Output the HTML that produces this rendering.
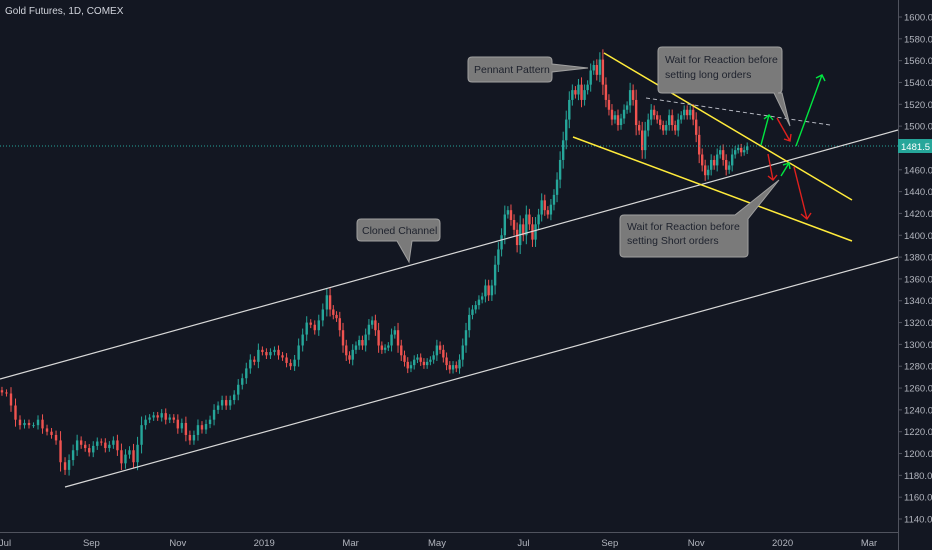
<!DOCTYPE html>
<html><head><meta charset="utf-8"><style>
body{margin:0;background:#131722;overflow:hidden}
svg{display:block;font-family:"Liberation Sans",sans-serif}
</style></head><body>
<svg id="c" width="932" height="550">
<rect width="932" height="550" fill="#131722"/>
<text x="5" y="14" fill="#d1d4dc" font-size="10">Gold Futures, 1D, COMEX</text>
<g id="candles"></g>
<g id="yaxis"></g>
<g id="xaxis"></g>
<line x1="0" y1="146" x2="898" y2="146" stroke="#26a69a" stroke-dasharray="1,2"/>
<line x1="0" y1="379" x2="898" y2="130" stroke="#d8d8d8" stroke-width="1.2"/>
<line x1="65" y1="487" x2="898" y2="257" stroke="#d8d8d8" stroke-width="1.2"/>
<line x1="604" y1="53" x2="852" y2="200" stroke="#ffeb3b" stroke-width="1.5"/>
<line x1="573" y1="137" x2="852" y2="241" stroke="#ffeb3b" stroke-width="1.5"/>
<line x1="646" y1="98" x2="830" y2="125" stroke="#b2b5be" stroke-dasharray="4,3"/>
<g stroke-width="1.4" fill="none">
<path d="M761 145 L769 115 M764 119 L769 115 L773 120" stroke="#00e640"/>
<path d="M777 118 L790 141 M784 139 L790 141 L791 134" stroke="#e0201e"/>
<path d="M796 146 L822 75 M816 78 L822 75 L825 81" stroke="#00e640"/>
<path d="M768 154 L773 180 M768 176 L773 180 L777 175" stroke="#e0201e"/>
<path d="M781 176 L789 163 M783 165 L789 163 L790 169" stroke="#00e640"/>
<path d="M794 167 L807 219 M801 214 L807 219 L811 213" stroke="#e0201e"/>
</g>
<g font-size="10.5" fill="#1e222d">
<g><path d="M472 57 H548 Q552 57 552 61 V64 L588 68 L552 72 V78 Q552 82 548 82 H472 Q468 82 468 78 V61 Q468 57 472 57Z" fill="#7a7a7a" stroke="#a0a0a0"/><text x="474" y="73" fill="#1e222d">Pennant Pattern</text></g>
<g><path d="M662 47 H778 Q782 47 782 51 V89 Q782 93 778 93 H782 L790 126 L774 93 H662 Q658 93 658 89 V51 Q658 47 662 47Z" fill="#7a7a7a" stroke="#a0a0a0"/><text x="665" y="63">Wait for Reaction before</text><text x="665" y="78">setting long orders</text></g>
<g><path d="M624 215 H735 L779 180 L748 219 V253 Q748 257 744 257 H624 Q620 257 620 253 V219 Q620 215 624 215Z" fill="#7a7a7a" stroke="#a0a0a0"/><text x="627" y="230">Wait for Reaction before</text><text x="627" y="244">setting Short orders</text></g>
<g><path d="M361 219 H436 Q440 219 440 223 V237 Q440 241 436 241 H412 L409 262 L397 241 H361 Q357 241 357 237 V223 Q357 219 361 219Z" fill="#7a7a7a" stroke="#a0a0a0"/><text x="362" y="234">Cloned Channel</text></g>
</g>
<rect x="898" y="139" width="34" height="14" fill="#26a69a"/>
<text x="901" y="150" fill="#ffffff" font-size="9.5">1481.5</text>
</svg>
<script>
const closes=[1256,1255,1244,1231,1226,1228,1226,1226,1231,1223,1220,1217,1212,1192,1185,1194,1203,1212,1208,1205,1201,1207,1211,1210,1205,1208,1212,1203,1191,1199,1203,1192,1208,1226,1231,1233,1235,1233,1237,1231,1233,1231,1223,1228,1217,1212,1217,1226,1222,1227,1231,1240,1244,1249,1244,1249,1254,1263,1269,1278,1286,1284,1295,1293,1290,1293,1295,1290,1288,1283,1280,1286,1299,1309,1320,1318,1313,1322,1332,1345,1332,1327,1324,1313,1299,1290,1286,1295,1299,1304,1299,1309,1318,1322,1313,1299,1295,1297,1299,1309,1313,1299,1290,1284,1278,1281,1286,1288,1284,1281,1284,1286,1290,1299,1295,1288,1281,1277,1281,1278,1286,1299,1313,1327,1332,1336,1341,1344,1354,1345,1354,1373,1387,1400,1419,1423,1414,1405,1391,1410,1400,1419,1410,1396,1410,1419,1432,1423,1419,1428,1437,1451,1469,1487,1506,1524,1533,1529,1538,1524,1533,1538,1551,1556,1547,1561,1538,1524,1515,1506,1510,1501,1507,1515,1519,1533,1524,1501,1496,1478,1496,1506,1515,1510,1506,1501,1496,1501,1510,1501,1496,1506,1510,1515,1510,1515,1506,1492,1474,1464,1455,1460,1469,1464,1474,1478,1469,1460,1464,1474,1478,1480,1476,1478,1481.5];
const priceTicks=[1140,1160,1180,1200,1220,1240,1260,1280,1300,1320,1340,1360,1380,1400,1420,1440,1460,1480,1500,1520,1540,1560,1580,1600];
const timeLabels=["Jul","Sep","Nov","2019","Mar","May","Jul","Sep","Nov","2020","Mar"];
const timeMonths=[0,2,4,6,8,10,12,14,16,18,20];
/* time-scale calibration: bar index -> month offset since Jul 2018 */
const calIdx=[0,14,79,134,152,165,179,214];
const calMonth=[-0.07,1.39,7.45,11.57,12.85,13.77,14.75,17.18];
const NS="http://www.w3.org/2000/svg";
const y=p=>17+(1600-p)*1.0913;
const xm=m=>5+m*43.2;
function monthOf(i){for(let k=0;k<calIdx.length-1;k++){if(i<=calIdx[k+1]){const t=(i-calIdx[k])/(calIdx[k+1]-calIdx[k]);return calMonth[k]+t*(calMonth[k+1]-calMonth[k]);}}return calMonth[calMonth.length-1];}
const xi=i=>xm(monthOf(i));
function mk(t,a,parent){const e=document.createElementNS(NS,t);for(const k in a)e.setAttribute(k,a[k]);parent.appendChild(e);return e;}
const cg=document.getElementById('candles');
closes.forEach((c,i)=>{
  const o=i?closes[i-1]:c+2;
  const up=c>=o;const col=up?'#26a69a':'#ef5350';
  const w=Math.abs(c-o)*0.3+2.5;
  const hi=Math.max(o,c)+w,lo=Math.min(o,c)-w;
  const x=xi(i);
  const l=mk('line',{x1:x,x2:x,y1:y(hi),y2:y(lo),stroke:col,'stroke-width':1},cg);
  
  
  const r=mk('rect',{x:x-1.2,width:2.4,y:y(Math.max(o,c)),height:Math.max(1,y(Math.min(o,c))-y(Math.max(o,c))),fill:col},cg);
  
  
});
const ya=document.getElementById('yaxis');
mk('line',{x1:898.5,x2:898.5,y1:0,y2:550,stroke:'#50535e'},ya);
priceTicks.forEach(p=>{
  mk('line',{x1:898,x2:902,y1:y(p),y2:y(p),stroke:'#50535e'},ya);
  const t=mk('text',{x:904,y:y(p)+3.5,fill:'#b2b5be','font-size':'9.5'},ya);
  t.textContent=p.toFixed(1);
  
  
});
const xa=document.getElementById('xaxis');
mk('line',{x1:0,x2:898,y1:532.5,y2:532.5,stroke:'#50535e'},xa);
timeLabels.forEach((s,i)=>{
  const x=xm(timeMonths[i]);
  const t=mk('text',{x:x,y:546,fill:'#b2b5be','font-size':'9.5','text-anchor':'middle'},xa);
  t.textContent=s;
  
  
});
</script>
</body></html>
